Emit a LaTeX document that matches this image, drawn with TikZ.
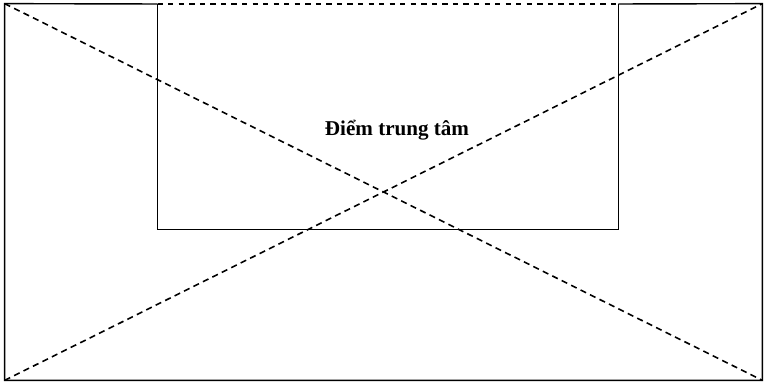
\documentclass[tikz,border=0pt]{standalone}
\usepackage{fontspec}
\setmainfont{Liberation Serif}
\usetikzlibrary{positioning}

\begin{document}
\begin{tikzpicture}[
    khungs/.style={rectangle, inner sep=0pt, minimum width=15.14cm, minimum height=7.52cm},
    vung/.style={rectangle, inner sep=0pt, minimum width=9.2cm, minimum height=4.5cm},
    nhan/.style={font=\bfseries\fontsize{12}{14}\selectfont},
    line/.style={line width=0.8pt},
    cheo/.style={line width=0.9pt, dash pattern=on 3.5pt off 2.5pt}]
    \useasboundingbox (0,0) rectangle (15.32,7.66);
    \node[khungs] (khung) at (7.67,3.82) {};
    \node[vung, anchor=north] (tam) at (7.76,7.58) {};
    \node[nhan] (diem) at (7.94,5.06) {Điểm trung tâm};
    % outer frame, open where the inner box meets it
    \draw[line] (tam.north west) -- (khung.north west) -- (khung.south west) -- (khung.south east) -- (khung.north east) -- (tam.north east);
    \draw[line] (tam.north west) -- (tam.south west) -- (tam.south east) -- (tam.north east);
    \draw[line, dashed] (tam.north west) -- (tam.north east);
    % diagonals
    \draw[cheo] (khung.north west) -- (khung.south east);
    \draw[cheo] (khung.south west) -- (khung.north east);
\end{tikzpicture}
\end{document}
